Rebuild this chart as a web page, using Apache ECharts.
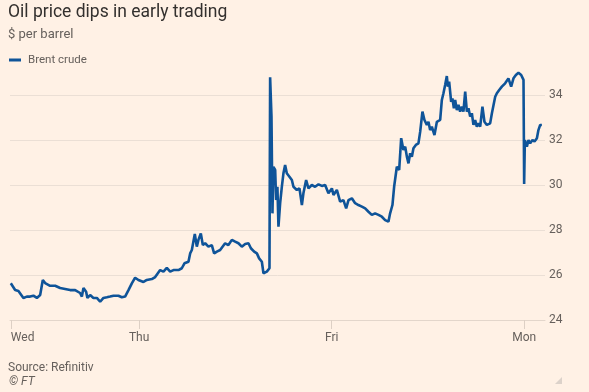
<!DOCTYPE html>
<html><head><meta charset="utf-8">
<script src="https://cdn.jsdelivr.net/npm/echarts@6/dist/echarts.min.js"></script>
<style>html,body{margin:0;padding:0;background:#FFF1E5;}#c{width:589px;height:392px;}</style>
</head><body><div id="c"></div>
<script>
// Hours of trading time since Wednesday 00:00 (weekend compressed: Thu=24, Fri=48, Mon=72)
var times = [8.00,8.54,8.95,9.57,10.00,10.41,10.82,11.25,11.66,11.99,12.28,12.90,13.53,14.15,14.77,15.40,16.02,16.64,16.86,17.06,17.39,17.55,17.89,18.30,18.73,19.14,19.55,19.97,20.38,20.80,21.01,21.42,21.84,22.25,22.67,23.09,23.50,23.91,
24.12,24.54,24.96,25.58,26.00,26.62,27.03,27.45,27.87,28.28,28.90,29.32,29.65,30.15,30.36,30.57,30.94,31.19,31.39,31.69,31.94,32.23,32.64,33.06,33.35,33.69,34.10,34.72,35.13,35.56,35.97,36.38,36.80,37.22,37.63,37.93,38.34,38.68,38.96,39.30,39.50,39.71,39.92,40.25,
40.33,40.50,40.62,40.74,40.96,41.08,41.24,41.37,41.58,41.79,41.99,42.20,42.41,42.61,43.04,43.24,43.66,43.99,44.29,44.48,44.82,45.11,45.53,45.94,46.36,46.78,47.19,47.60,48.03,48.23,48.65,49.06,49.47,49.81,50.10,50.52,50.93,51.34,51.77,52.18,52.59,53.01,53.42,53.84,54.26,54.67,55.08,55.29,55.58,55.79,56.13,56.42,56.67,56.95,57.17,57.38,57.58,57.79,58.00,58.20,58.50,58.82,59.04,59.32,59.57,59.87,60.07,60.28,60.49,60.82,61.12,61.32,61.53,61.74,61.94,62.15,62.36,62.49,62.65,62.90,63.06,63.24,63.40,63.61,63.81,64.02,64.23,64.43,64.65,64.86,65.06,65.27,65.48,65.68,65.89,66.10,66.30,66.52,66.80,67.05,67.35,67.76,67.98,68.39,68.60,68.89,69.22,69.63,69.85,70.04,70.38,70.67,70.97,71.29,71.63,71.92,72.00,72.09,72.34,72.54,72.75,73.04,73.29,73.59,73.78,74.00,74.21];
var prices = [25.63,25.33,25.29,24.98,25.04,25.04,25.08,24.98,25.11,25.78,25.64,25.52,25.52,25.42,25.38,25.33,25.33,25.20,25.04,25.42,25.26,24.98,25.11,24.98,24.98,24.81,24.98,25.01,25.04,25.08,25.01,25.08,25.01,25.04,25.33,25.63,25.88,25.78,
25.78,25.69,25.78,25.82,25.91,26.22,26.15,26.32,26.15,26.22,26.22,26.30,26.52,26.59,26.96,27.11,27.82,27.26,27.56,27.85,27.33,27.41,27.26,27.33,26.96,27.04,27.11,27.41,27.33,27.56,27.48,27.41,27.26,27.38,27.41,27.19,27.04,26.96,26.74,26.59,26.08,26.00,26.15,26.30,
34.79,33.04,28.74,30.81,30.67,29.33,29.92,28.15,29.19,29.92,30.52,30.89,30.52,30.44,30.22,29.92,29.78,29.85,29.11,29.63,30.22,29.85,30.00,29.92,30.03,29.96,30.00,29.63,29.85,29.56,29.78,29.26,29.33,28.96,29.33,29.41,29.19,29.11,29.04,28.96,28.81,28.67,28.74,28.67,28.59,28.44,28.37,28.74,29.11,29.92,30.81,30.67,32.08,31.56,31.70,31.26,30.96,31.41,31.26,31.63,31.78,31.85,32.37,33.26,32.89,32.67,32.81,32.44,32.59,32.22,32.81,32.74,32.89,33.78,34.08,34.44,34.84,34.37,34.59,33.70,33.85,33.41,33.78,33.33,33.56,33.26,33.48,33.26,34.15,33.26,33.41,33.04,33.19,32.67,32.89,32.59,32.74,32.59,33.48,32.81,32.67,32.74,33.19,33.92,34.08,34.22,34.37,34.52,34.44,34.74,34.37,34.74,34.89,34.99,34.89,34.67,30.04,32.00,31.70,32.00,31.85,32.00,31.93,32.08,32.44,32.67,32.67];
var dayTicks = [8, 24, 48, 72];
var dayLabels = ['Wed', 'Thu', 'Fri', 'Mon'];
var yMin = 24, yMax = 34, yStep = 2;
var seriesName = 'Brent crude';

var FONT = "Roboto, 'Noto Sans', sans-serif";
var data = times.map(function (t, i) { return [t, prices[i]]; });
var chart = echarts.init(document.getElementById('c'), null, {renderer: 'canvas'});
chart.setOption({
  backgroundColor: '#FFF1E5',
  animation: false,
  title: [
    {text: 'Oil price dips in early trading', left: 3, top: -1, textStyle: {fontFamily: FONT, fontSize: 17.5, fontWeight: 'normal', color: '#33302E'}},
    {text: '$ per barrel', left: 3, top: 23, textStyle: {fontFamily: FONT, fontSize: 13, fontWeight: 'normal', color: '#66605C'}},
    {text: 'Source: Refinitiv', left: 3, top: 357, textStyle: {fontFamily: FONT, fontSize: 12, fontWeight: 'normal', color: '#66605C'}},
    {text: '© FT', left: 4, top: 371, textStyle: {fontFamily: FONT, fontSize: 12, fontStyle: 'italic', fontWeight: 'normal', color: '#66605C'}}
  ],
  legend: {
    left: 4, top: 49, icon: 'rect', itemWidth: 12, itemHeight: 3, itemGap: 8,
    textStyle: {fontFamily: FONT, fontSize: 11.5, color: '#66605C', padding: [0,0,0,2]},
    data: [seriesName]
  },
  grid: {left: 10, right: 44, top: 95, bottom: 72},
  xAxis: {
    type: 'value', min: 7.9, max: 74.6,
    axisLine: {show: true, lineStyle: {color: '#E3D6CB', width: 1}},
    axisTick: {show: true, customValues: dayTicks, length: 9, lineStyle: {color: '#DDD0C5'}},
    axisLabel: {customValues: dayTicks, alignMinLabel: 'left', margin: 12, fontFamily: FONT, fontSize: 12, color: '#66605C',
      formatter: function (v) { var i = dayTicks.indexOf(v); return i >= 0 ? dayLabels[i] : ''; }},
    splitLine: {show: false}
  },
  yAxis: {
    type: 'value', position: 'right', min: yMin, max: yMax, interval: yStep,
    axisLine: {show: false}, axisTick: {show: false},
    axisLabel: {margin: 4, fontFamily: FONT, fontSize: 12, color: '#66605C'},
    splitLine: {show: true, lineStyle: {color: '#EBDFD5', width: 1}}
  },
  series: [{
    name: seriesName, type: 'line', data: data, showSymbol: false, clip: false,
    lineStyle: {color: '#0F5499', width: 2.6}, itemStyle: {color: '#0F5499'}
  }],
  graphic: [{type: 'polygon', shape: {points: [[562,377],[562,384],[555,384]]}, style: {fill: '#DCD2CA'}}]
});
</script></body></html>
